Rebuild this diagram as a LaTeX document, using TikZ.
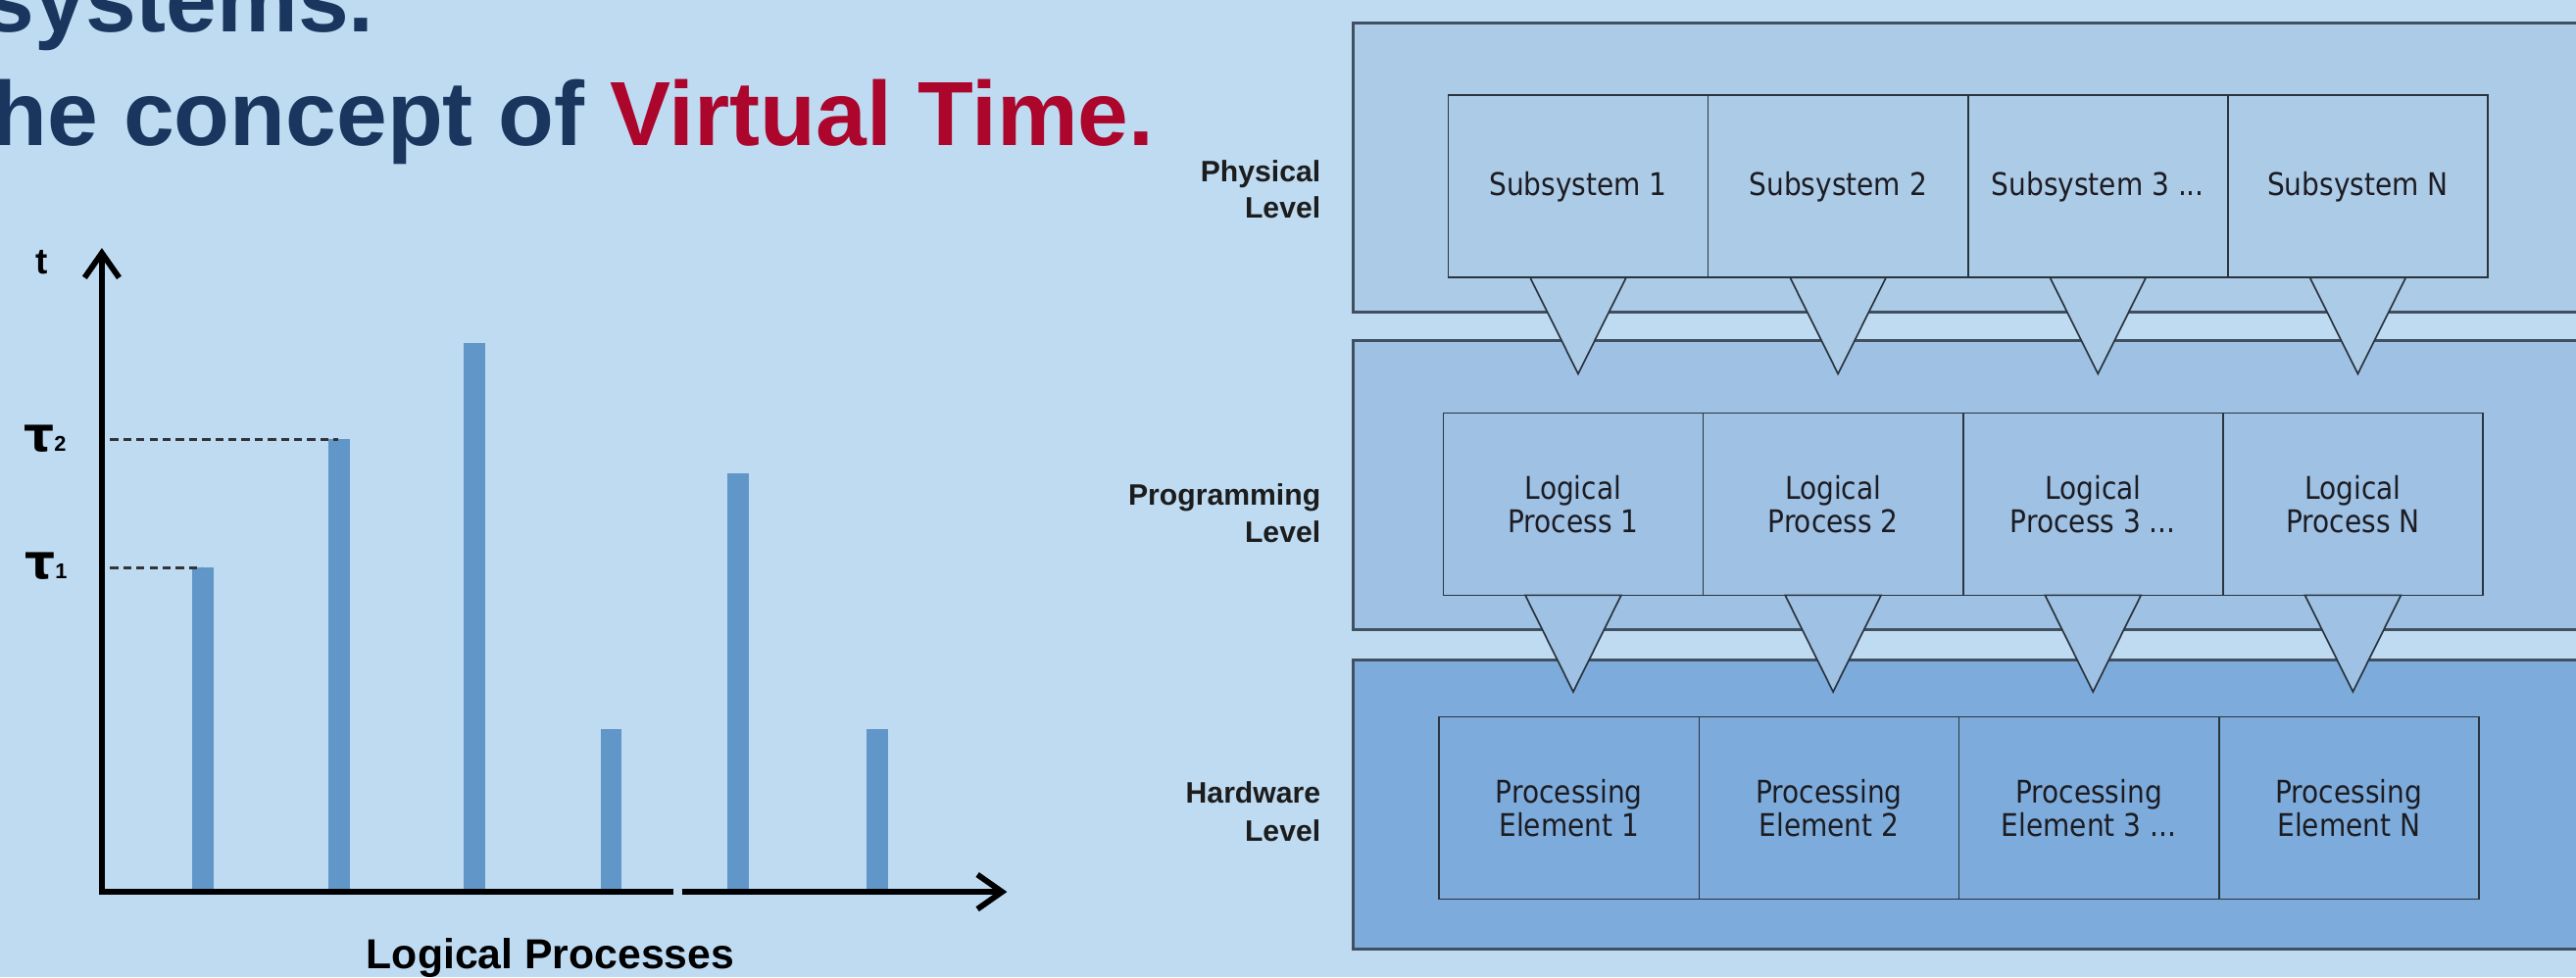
\documentclass[tikz,border=0pt]{standalone}
\usepackage{fontspec}
\setmainfont{Liberation Sans}
\newfontfamily\boxfont[FakeStretch=0.88]{DejaVu Sans}
\newfontfamily\taufont{DejaVu Sans}
\usetikzlibrary{arrows.meta}
\definecolor{bgblue}{RGB}{190,219,242}
\definecolor{navy}{RGB}{27,54,94}
\definecolor{vred}{RGB}{172,6,45}
\definecolor{barblue}{RGB}{97,150,201}
\definecolor{dashgray}{RGB}{50,52,56}
\definecolor{physfill}{RGB}{172,203,231}
\definecolor{progfill}{RGB}{158,193,228}
\definecolor{hwfill}{RGB}{125,172,220}
\definecolor{outeredge}{RGB}{65,80,96}
\definecolor{celledge}{RGB}{42,52,62}
\definecolor{celltext}{RGB}{28,28,34}
\definecolor{labeltext}{RGB}{28,28,28}
\tikzset{
  titletext/.style={inner sep=0, anchor=base west, font=\bfseries\fontsize{55.5}{55.5}\selectfont, text=navy},
  axisline/.style={line width=3.5pt, black},
  dashline/.style={draw=dashgray, line width=1.8pt, dash pattern=on 5pt off 3pt},
  axlabel/.style={inner sep=0, font=\bfseries\fontsize{22}{22}\selectfont},
  taulabel/.style={inner sep=0, anchor=base east},
  outerbox/.style={draw=outeredge, line width=1.8pt, inner sep=0, outer sep=0, anchor=north west, minimum width=820pt, minimum height=176pt},
  cell/.style={draw=celledge, line width=1pt, inner sep=0, outer sep=0, anchor=north west, minimum width=158.2pt, minimum height=111pt, align=center, text=celltext, font=\boxfont\fontsize{19}{20}\selectfont},
  tri/.style={draw=celledge, line width=1pt, line join=miter},
  levellabel/.style={inner sep=0, anchor=base east, text=labeltext, font=\bfseries\fontsize{18}{18}\selectfont},
}
\newcommand{\taulab}[1]{{\taufont\bfseries\fontsize{29}{29}\selectfont τ}{\bfseries\fontsize{13}{13}\selectfont #1}}
\begin{document}
\begin{tikzpicture}[x=1pt,y=-1pt]
\useasboundingbox (0,0) rectangle (1568,595);
\clip (0,0) rectangle (1568,595);
\fill[bgblue] (0,0) rectangle (1568,595);

% ---------- title ----------
\node[titletext] (title1) at (-10,19.3) {systems.};
\node[titletext] (title2) at (-5,88.5) {he concept of \textcolor{vred}{Virtual Time.}};

% ---------- chart ----------
\fill[barblue] (117,345.6) rectangle (130,543);
\fill[barblue] (200,267.5) rectangle (213,543);
\fill[barblue] (282.5,209) rectangle (295.5,543);
\fill[barblue] (366,444) rectangle (378.5,543);
\fill[barblue] (443,288) rectangle (456,543);
\fill[barblue] (527.5,444) rectangle (540.5,543);

\coordinate (O) at (62,543);
\coordinate (ytop) at (62,151);
\coordinate (gapL) at (410,543);
\coordinate (gapR) at (415,543);
\coordinate (xend) at (613,543);
\draw[axisline, {Straight Barb[length=15pt,width=21pt]}-] (ytop) -- (O) -- (gapL);
\draw[axisline, -{Straight Barb[length=15pt,width=21pt]}] (gapR) -- (xend);

\coordinate (d2a) at (67,267.5);
\coordinate (d2b) at (206,267.5);
\coordinate (d1a) at (67,345.6);
\coordinate (d1b) at (123,345.6);
\draw[dashline] (d2a) -- (d2b);
\draw[dashline] (d1a) -- (d1b);

\node[axlabel, anchor=base] (tlab) at (25.5,167) {t};
\node[taulabel] (tau2) at (40.5,274.5) {\taulab{2}};
\node[taulabel] (tau1) at (41,352.6) {\taulab{1}};
\node[inner sep=0, anchor=base, font=\bfseries\fontsize{25.5}{25.5}\selectfont] (xlab) at (335,589.7) {Logical Processes};

% ---------- level diagram ----------
\node[outerbox, fill=physfill] (phys) at (823.5,14.3) {};
\node[outerbox, fill=progfill] (prog) at (823.5,207.5) {};
\node[outerbox, fill=hwfill] (hw) at (823.5,401.6) {};

\node[levellabel] (lpa) at (804,110.4) {Physical};
\node[levellabel] (lpb) at (804,132.5) {Level};
\node[levellabel] (lga) at (804,307.8) {Programming};
\node[levellabel] (lgb) at (804,330) {Level};
\node[levellabel] (lha) at (804,488.7) {Hardware};
\node[levellabel] (lhb) at (804,512) {Level};

\node[cell] (s1) at (881.5,58) {Subsystem 1};
\node[cell] (s2) at (1039.7,58) {Subsystem 2};
\node[cell] (s3) at (1197.9,58) {Subsystem 3 ...};
\node[cell] (s4) at (1356.1,58) {Subsystem N};

\node[cell] (l1) at (878.5,251.4) {Logical\\Process 1};
\node[cell] (l2) at (1036.7,251.4) {Logical\\Process 2};
\node[cell] (l3) at (1194.9,251.4) {Logical\\Process 3 ...};
\node[cell] (l4) at (1353.1,251.4) {Logical\\Process N};

\node[cell] (p1) at (876,436.5) {Processing\\Element 1};
\node[cell] (p2) at (1034.2,436.5) {Processing\\Element 2};
\node[cell] (p3) at (1192.4,436.5) {Processing\\Element 3 ...};
\node[cell] (p4) at (1350.6,436.5) {Processing\\Element N};

\foreach \n in {s1,s2,s3,s4}{
  \filldraw[tri, fill=physfill] ([xshift=-29.2pt]\n.south) -- ([xshift=29.2pt]\n.south) -- ([yshift=-58.6pt]\n.south) -- cycle;
}
\foreach \n in {l1,l2,l3,l4}{
  \filldraw[tri, fill=progfill] ([xshift=-29.2pt]\n.south) -- ([xshift=29.2pt]\n.south) -- ([yshift=-58.8pt]\n.south) -- cycle;
}
\end{tikzpicture}
\end{document}
